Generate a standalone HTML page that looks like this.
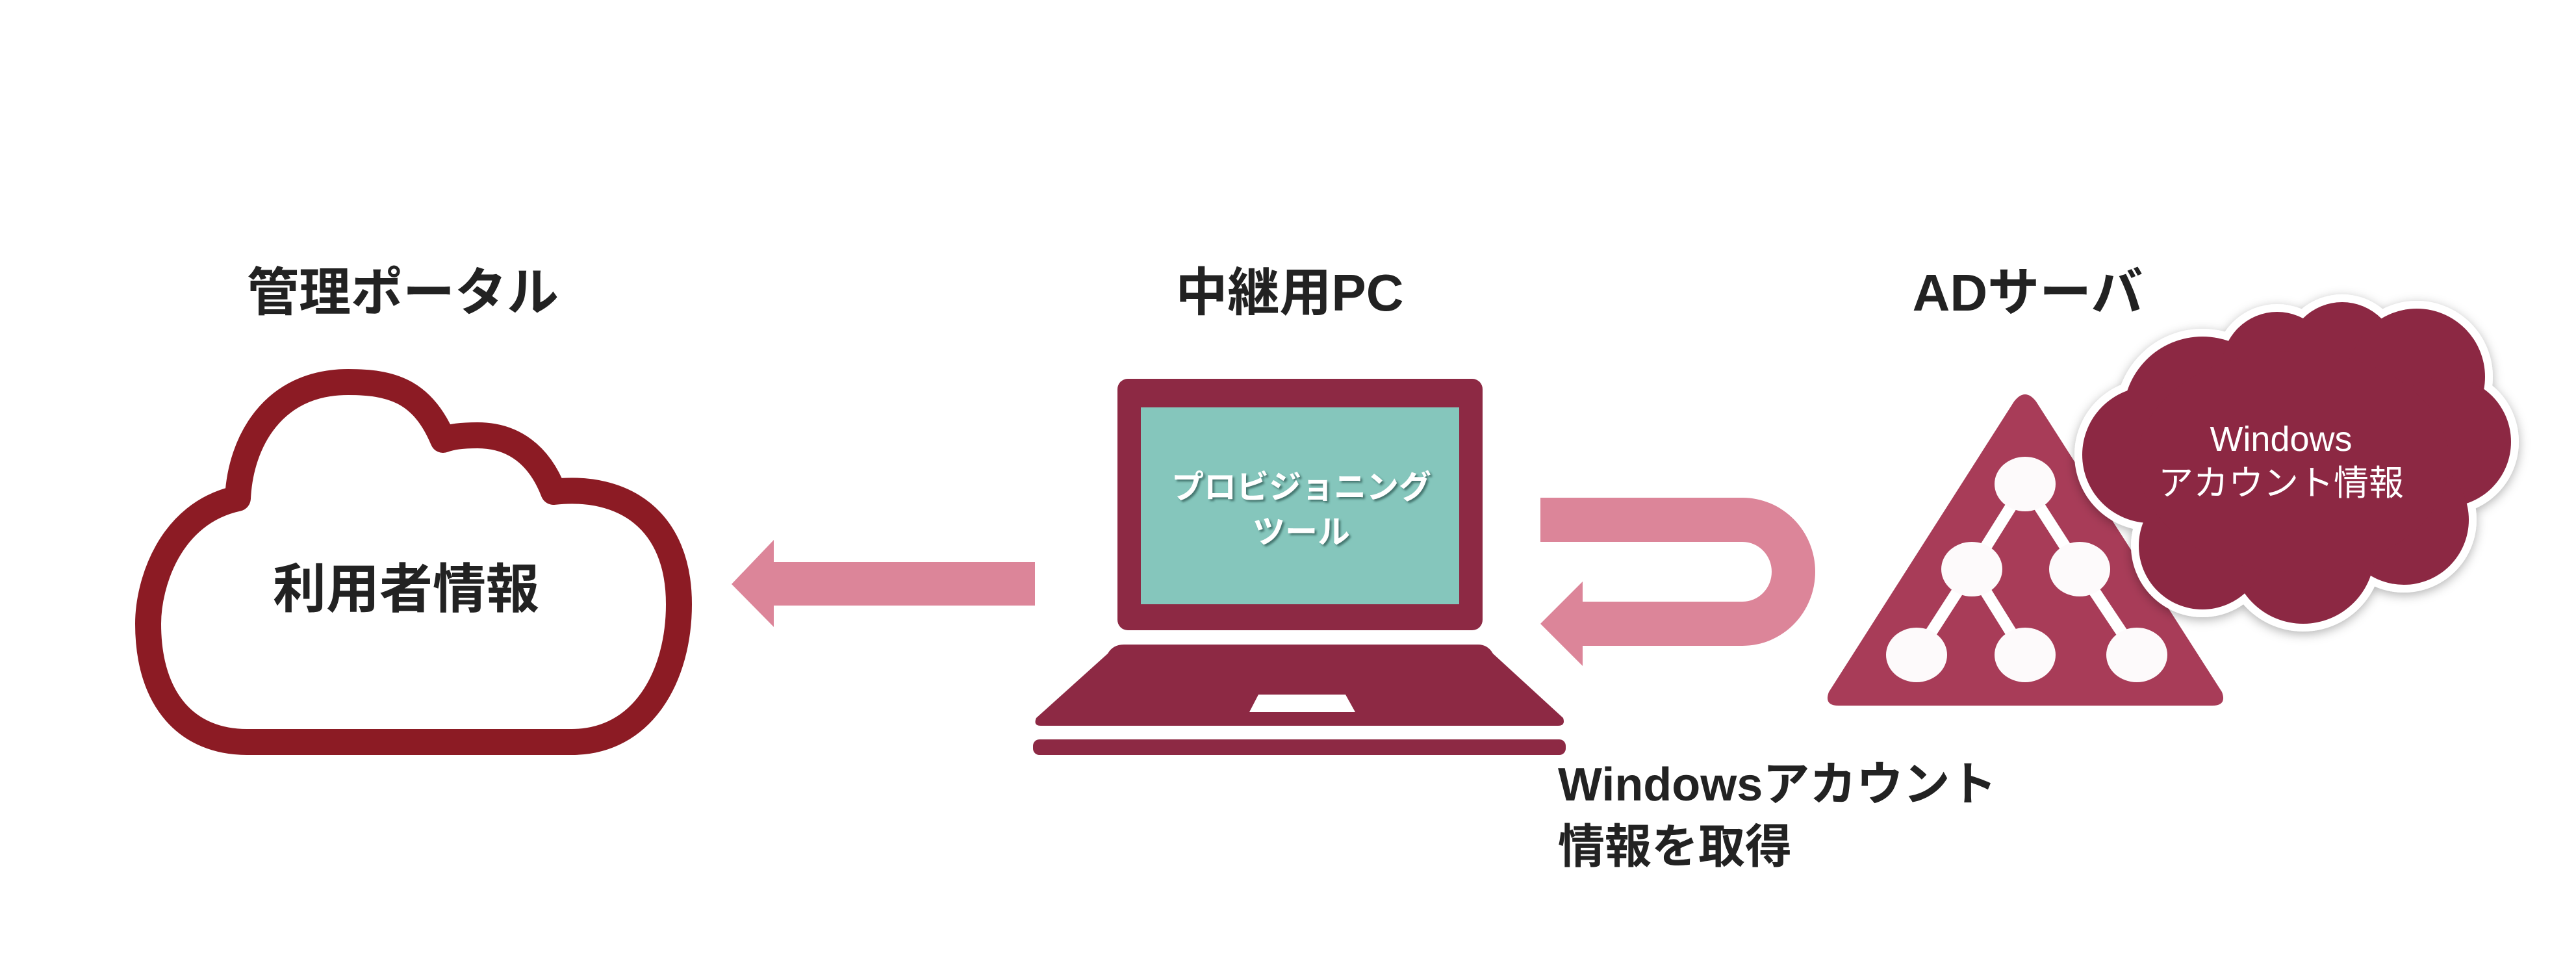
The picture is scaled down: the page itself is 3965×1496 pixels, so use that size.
<!DOCTYPE html>
<html><head><meta charset="utf-8"><style>
html,body{margin:0;padding:0;background:#fff;}
svg{display:block;}
text{font-family:"Liberation Sans","Noto Sans CJK JP",sans-serif;}
</style></head><body>
<svg width="3965" height="1496" viewBox="0 0 3965 1496" xmlns="http://www.w3.org/2000/svg">
<defs>
<filter id="sh" x="-20%" y="-20%" width="140%" height="140%"><feDropShadow dx="0" dy="4" stdDeviation="8" flood-color="#000" flood-opacity="0.3"/></filter>
<filter id="ts" x="-10%" y="-10%" width="120%" height="120%"><feDropShadow dx="3" dy="3" stdDeviation="1.5" flood-color="#2a5550" flood-opacity="0.7"/></filter>
</defs>
<text x="620" y="478" font-size="80" font-weight="bold" fill="#222" text-anchor="middle">管理ポータル</text>
<text x="1985" y="478" font-size="80" font-weight="bold" fill="#222" text-anchor="middle">中継用PC</text>
<text x="3121" y="478" font-size="80" font-weight="bold" fill="#222" text-anchor="middle">ADサーバ</text>

<path d="M380 1142 L880 1142 C990 1142 1045 1040 1045 930 C1045 800 960 745 852 757 C830 700 790 670 735 670 C710 670 695 672 682 677 C650 600 600 588 536 588 C420 588 370 680 366 767 C260 790 228 900 228 960 C228 1080 290 1142 380 1142 Z" fill="#fff" stroke="#8c1b24" stroke-width="40" stroke-linejoin="round"/>
<text x="625" y="935" font-size="82" font-weight="bold" fill="#222" text-anchor="middle">利用者情報</text>

<polygon points="1126,899 1191,831 1191,865 1593,865 1593,932 1191,932 1191,965" fill="#dc8599"/>

<rect x="1720" y="583" width="562" height="387" rx="16" fill="#8d2944"/>
<rect x="1756" y="627" width="490" height="303" fill="#85c6bc"/>
<g filter="url(#ts)" fill="#fff" font-weight="bold" font-size="50" text-anchor="middle">
<text x="2003" y="767">プロビジョニング</text>
<text x="2003" y="836">ツール</text>
</g>
<path d="M1730 992 L2275 992 Q2290 992 2298 1006 L2406 1105 Q2410 1117 2398 1117 L1602 1117 Q1590 1117 1595 1105 L1705 1006 Q1713 992 1730 992 Z" fill="#8d2944"/>
<polygon points="1937,1069 2071,1069 2086,1096 1923,1096" fill="#fff"/>
<rect x="1590" y="1138" width="820" height="24" rx="10" fill="#8d2944"/>

<path d="M2371 766 L2682 766 A112 114 0 0 1 2682 994 L2436 994 L2436 1025 L2371 960 L2436 895 L2436 926 L2682 926 A45 46 0 0 0 2682 834 L2371 834 Z" fill="#dc8599"/>

<path d="M3100 618 Q3117 596 3134 618 L3420 1065 Q3428 1086 3405 1086 L2830 1086 Q2807 1086 2815 1065 Z" fill="#a83c58"/>
<g stroke="#fff" stroke-width="18">
<line x1="3117" y1="745" x2="3035" y2="876"/>
<line x1="3117" y1="745" x2="3201" y2="876"/>
<line x1="3035" y1="876" x2="2950" y2="1008"/>
<line x1="3035" y1="876" x2="3117" y2="1008"/>
<line x1="3201" y1="876" x2="3289" y2="1008"/>
</g>
<g fill="#fdfafb">
<ellipse cx="3117" cy="745" rx="47" ry="42"/>
<ellipse cx="3035" cy="876" rx="47" ry="42"/>
<ellipse cx="3201" cy="876" rx="47" ry="42"/>
<ellipse cx="2950" cy="1008" rx="47" ry="42"/>
<ellipse cx="3117" cy="1008" rx="47" ry="42"/>
<ellipse cx="3289" cy="1008" rx="47" ry="42"/>
</g>

<g filter="url(#sh)">
<g fill="#fff" stroke="#fff" stroke-width="24">
<circle cx="3390" cy="640" r="122"/><circle cx="3505" cy="565" r="85"/><circle cx="3605" cy="550" r="85"/><circle cx="3720" cy="580" r="105"/><circle cx="3765" cy="680" r="100"/><circle cx="3700" cy="800" r="100"/><circle cx="3545" cy="850" r="110"/><circle cx="3390" cy="840" r="98"/><circle cx="3310" cy="700" r="105"/><ellipse cx="3530" cy="710" rx="240" ry="170"/>
</g>
</g>
<g fill="#8c2843">
<circle cx="3390" cy="640" r="122"/><circle cx="3505" cy="565" r="85"/><circle cx="3605" cy="550" r="85"/><circle cx="3720" cy="580" r="105"/><circle cx="3765" cy="680" r="100"/><circle cx="3700" cy="800" r="100"/><circle cx="3545" cy="850" r="110"/><circle cx="3390" cy="840" r="98"/><circle cx="3310" cy="700" r="105"/><ellipse cx="3530" cy="710" rx="240" ry="170"/>
</g>
<text x="3511" y="694" font-size="54" fill="#fff" text-anchor="middle">Windows</text>
<text x="3511" y="762" font-size="54" fill="#fff" text-anchor="middle">アカウント情報</text>

<text x="2398" y="1232" font-size="72" font-weight="bold" fill="#222">Windowsアカウント</text>
<text x="2398" y="1328" font-size="72" font-weight="bold" fill="#222">情報を取得</text>
</svg>
</body></html>
